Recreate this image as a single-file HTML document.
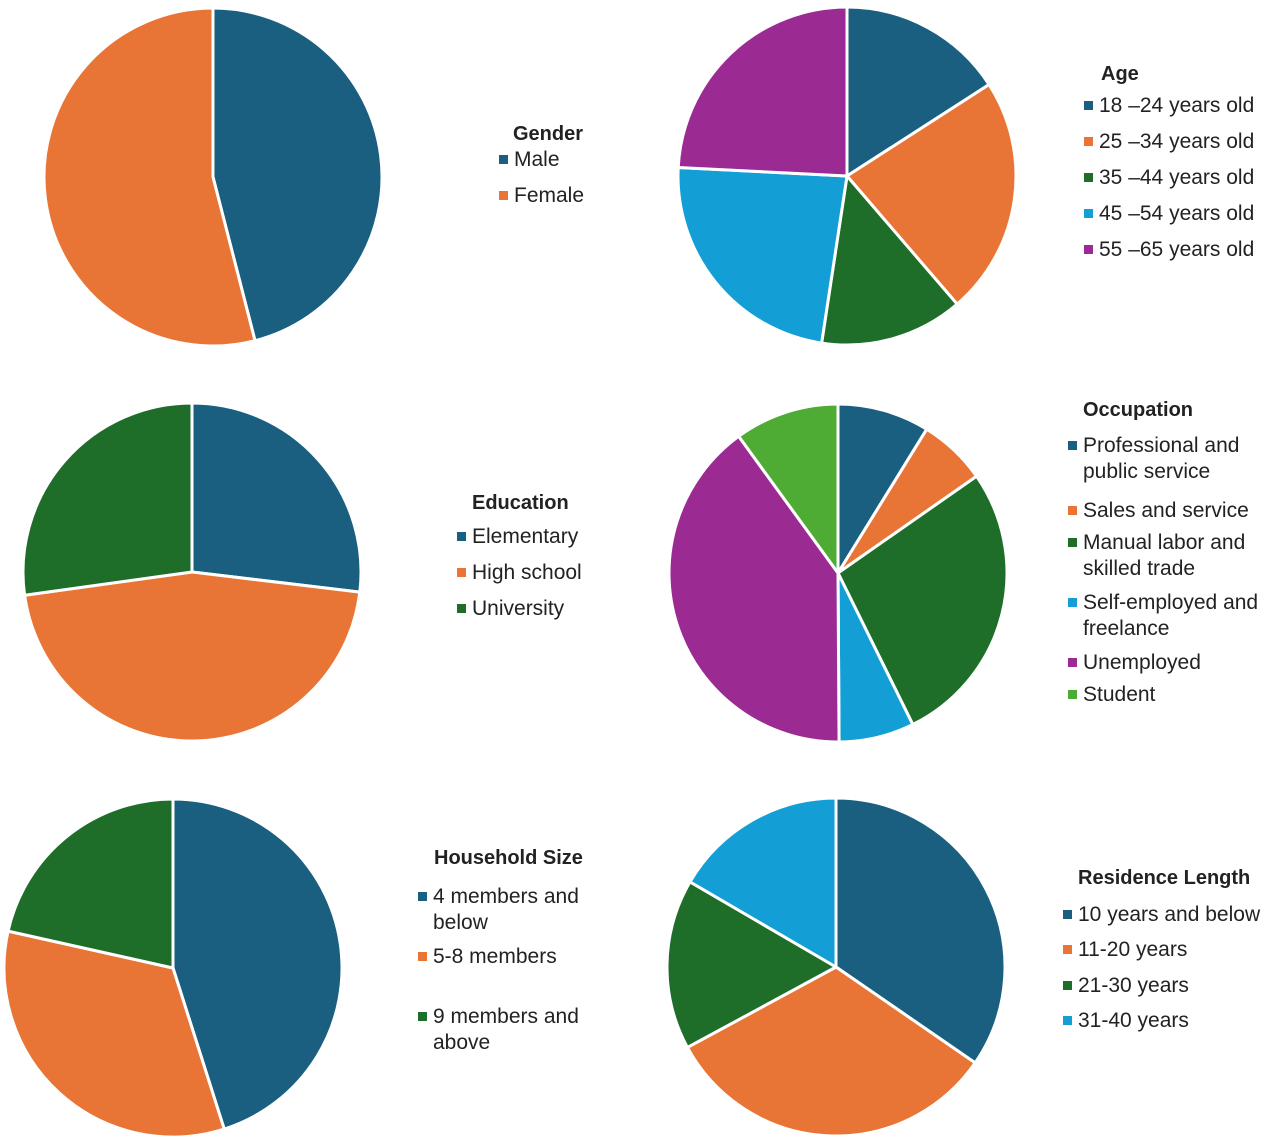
<!DOCTYPE html>
<html><head><meta charset="utf-8">
<style>
body{margin:0;background:#fff;font-family:"Liberation Sans",Arial,sans-serif;}
svg{display:block}
</style></head>
<body>
<svg id="chart" width="1280" height="1146" viewBox="0 0 1280 1146"></svg>
<script>
// data (percentages)
const genderLabels=["Male","Female"];
const genderValues=[46,54];
const ageLabels=["18 \u201324 years old","25 \u201334 years old","35 \u201344 years old","45 \u201354 years old","55 \u201365 years old"];
const ageValues=[15.9,22.8,13.7,23.4,24.2];
const eduLabels=["Elementary","High school","University"];
const eduValues=[26.9,45.9,27.2];
const occLabels=[["Professional and","public service"],["Sales and service"],["Manual labor and","skilled trade"],["Self-employed and","freelance"],["Unemployed"],["Student"]];
const occValues=[8.8,6.5,27.4,7.2,40.1,10.0];
const hhLabels=[["4 members and","below"],["5-8 members"],["9 members and","above"]];
const hhValues=[45.1,33.4,21.5];
const resLabels=["10 years and below","11-20 years","21-30 years","31-40 years"];
const resValues=[34.6,32.5,16.3,16.6];

const COLORS=["#1a5f80","#e87535","#1e6e2a","#139fd6","#9c2a93","#4eac35"];
const NS="http://www.w3.org/2000/svg";
const svg=document.getElementById("chart");
function mk(tag,attrs,parent){const e=document.createElementNS(NS,tag);for(const k in attrs)e.setAttribute(k,attrs[k]);(parent||svg).appendChild(e);return e;}

function pie(name,cx,cy,r,values){
  const g=mk("g",{});
  
  
  const total=values.reduce((a,b)=>a+b,0);
  let a0=0;
  values.forEach((v,i)=>{
    const a1=a0+v/total*2*Math.PI;
    const x0=cx+r*Math.sin(a0),y0=cy-r*Math.cos(a0),x1=cx+r*Math.sin(a1),y1=cy-r*Math.cos(a1);
    const large=(a1-a0)>Math.PI?1:0;
    const p=mk("path",{d:`M${cx},${cy}L${x0},${y0}A${r},${r} 0 ${large} 1 ${x1},${y1}Z`,fill:COLORS[i],stroke:"#fff","stroke-width":3,"stroke-linejoin":"round"},g);
    
    
    a0=a1;
  });
}
function legend(name,x,y,title,labels,rows,titleX){
  const g=mk("g",{});
  
  
  const t=mk("text",{x:titleX,y:y,"font-size":20,"font-weight":"bold",fill:"#222"},g);
  t.textContent=title;
  
  
  labels.forEach((lab,i)=>{
    const lines=Array.isArray(lab)?lab:[lab];
    const ry=rows[i];
    const ent=mk("g",{},g);
    
    
    mk("rect",{x:x,y:ry-11,width:9,height:9,fill:COLORS[i]},ent);
    lines.forEach((ln,j)=>{
      const tt=mk("text",{x:x+15,y:ry+j*26,"font-size":21,fill:"#222"},ent);
      tt.textContent=ln;
    });
  });
}
pie("gender",213,177,169,genderValues);
legend("gender",499,140,"Gender",genderLabels,[166,202],513);
pie("age",847,176,169,ageValues);
legend("age",1084,80,"Age",ageLabels,[112,148,184,220,256],1101);
pie("education",192,572,169,eduValues);
legend("education",457,509,"Education",eduLabels,[543,579,615],472);
pie("occupation",838,573,169,occValues);
legend("occupation",1068,416,"Occupation",occLabels,[452,517,549,609,669,701],1083);
pie("household",173,968,169,hhValues);
legend("household",418,864,"Household Size",hhLabels,[903,963,1023],434);
pie("residence",836,967,169,resValues);
legend("residence",1063,884,"Residence Length",resLabels,[921,956,992,1027],1078);
</script>
</body></html>
